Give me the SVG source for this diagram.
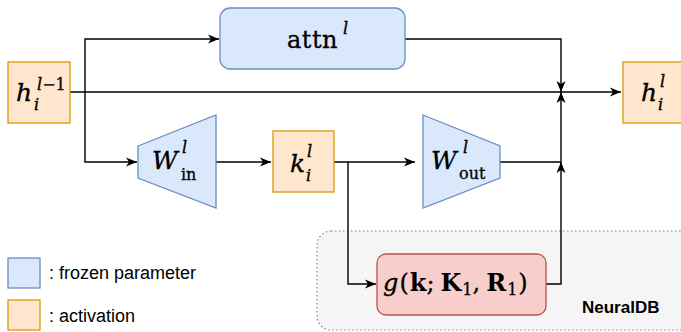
<svg xmlns="http://www.w3.org/2000/svg" width="681" height="332" viewBox="0 0 681 332">
  <style>
    .param { fill: #dae8fc; stroke: #6c8ebf; stroke-width: 1.3; }
    .act { fill: #ffe6cc; stroke: #d79b00; stroke-width: 1.3; }
    .db { fill: #f8cecc; stroke: #b85450; stroke-width: 1.3; }
    .wire { fill: none; stroke: #000; stroke-width: 1.4; }
    .m { font-family: "DejaVu Serif", "Liberation Serif", serif; font-style: italic; fill: #000; stroke: #000; stroke-width: 0.35; }
    .r { font-family: "DejaVu Serif", "Liberation Serif", serif; font-style: normal; fill: #000; stroke: #000; stroke-width: 0.3; }
    .b { font-family: "DejaVu Serif", "Liberation Serif", serif; font-style: normal; font-weight: bold; fill: #000; }
    .lbl { font-family: "Liberation Sans", Arial, sans-serif; font-size: 18px; fill: #000; }
  </style>
  <defs>
    <marker id="arrow" markerUnits="userSpaceOnUse" markerWidth="12" markerHeight="10" refX="11" refY="5" orient="auto">
      <path d="M0,0.5 L11,5 L0,9.5 L3,5 Z" fill="#000"/>
    </marker>
  </defs>

  <!-- NeuralDB container -->
  <g id="neuraldb">
    <rect x="317" y="231" width="380" height="99" rx="14" fill="#f5f5f5" stroke="#888" stroke-width="1.2" stroke-dasharray="1.5,2.5"/>
    <text x="582" y="313" font-family="Liberation Sans, Arial, sans-serif" font-weight="bold" font-size="17">NeuralDB</text>
  </g>

  <!-- connectors -->
  <g id="connectors">
    <path class="wire" d="M70,92 H621" marker-end="url(#arrow)"/>
    <path class="wire" d="M85,92 V39 H219" marker-end="url(#arrow)"/>
    <path class="wire" d="M85,92 V162 H137" marker-end="url(#arrow)"/>
    <path class="wire" d="M405,39 H561 V92" marker-end="url(#arrow)"/>
    <path class="wire" d="M216,162 H271" marker-end="url(#arrow)"/>
    <path class="wire" d="M334,162 H415" marker-end="url(#arrow)"/>
    <path class="wire" d="M348,162 V284 H376" marker-end="url(#arrow)"/>
    <path class="wire" d="M500,162 H561 V92" marker-end="url(#arrow)"/>
    <path class="wire" d="M546,284 H561 V162" marker-end="url(#arrow)"/>
  </g>

  <!-- input activation -->
  <g id="h-in">
    <rect class="act" x="8" y="62" width="62" height="61"/>
    <text class="m" x="16" y="101" font-size="25">h</text>
    <text class="m" x="34" y="110" font-size="16">i</text>
    <text class="m" x="37" y="90" font-size="16">l<tspan class="r">−1</tspan></text>
  </g>

  <!-- attention block -->
  <g id="attn">
    <rect class="param" x="220" y="8" width="185" height="61" rx="10"/>
    <text class="r" x="287" y="48" font-size="24" letter-spacing="0.5">attn</text>
    <text class="m" x="343" y="34" font-size="16">l</text>
  </g>

  <!-- W_in -->
  <g id="w-in">
    <polygon class="param" points="138,146 216,115 216,208 138,178"/>
    <text class="m" x="152" y="169" font-size="25">W</text>
    <text class="m" x="182" y="153" font-size="16">l</text>
    <text class="r" x="181" y="180" font-size="16">in</text>
  </g>

  <!-- key activation -->
  <g id="k">
    <rect class="act" x="273" y="131" width="61" height="61"/>
    <text class="m" x="290" y="172" font-size="25">k</text>
    <text class="m" x="307" y="157" font-size="16">l</text>
    <text class="m" x="306" y="181" font-size="16">i</text>
  </g>

  <!-- W_out -->
  <g id="w-out">
    <polygon class="param" points="423,115 500,146 500,178 423,208"/>
    <text class="m" x="431" y="169" font-size="25">W</text>
    <text class="m" x="463" y="153" font-size="16">l</text>
    <text class="r" x="459" y="179" font-size="16">out</text>
  </g>

  <!-- output activation -->
  <g id="h-out">
    <rect class="act" x="623" y="62" width="62" height="61"/>
    <text class="m" x="641" y="101" font-size="25">h</text>
    <text class="m" x="658" y="110" font-size="16">i</text>
    <text class="m" x="660" y="87" font-size="16">l</text>
  </g>

  <!-- NeuralDB lookup -->
  <g id="g-lookup">
    <rect class="db" x="377" y="254" width="169" height="61" rx="9"/>
    <text x="383" y="291" font-size="24"><tspan class="m">g</tspan><tspan class="r" dx="1">(</tspan><tspan class="b" dx="1">k</tspan><tspan class="r">;</tspan><tspan class="b" dx="6">K</tspan><tspan class="r" font-size="16" dy="4" dx="1">1</tspan><tspan class="r" dy="-4">,</tspan><tspan class="b" dx="6">R</tspan><tspan class="r" font-size="16" dy="4" dx="1">1</tspan><tspan class="r" dy="-4" dx="1">)</tspan></text>
  </g>

  <!-- legend -->
  <g id="legend-param">
    <rect class="param" x="8" y="258" width="32" height="30"/>
    <text class="lbl" x="49" y="279">: frozen parameter</text>
  </g>
  <g id="legend-act">
    <rect class="act" x="8" y="300" width="32" height="30"/>
    <text class="lbl" x="49" y="322">: activation</text>
  </g>
</svg>
